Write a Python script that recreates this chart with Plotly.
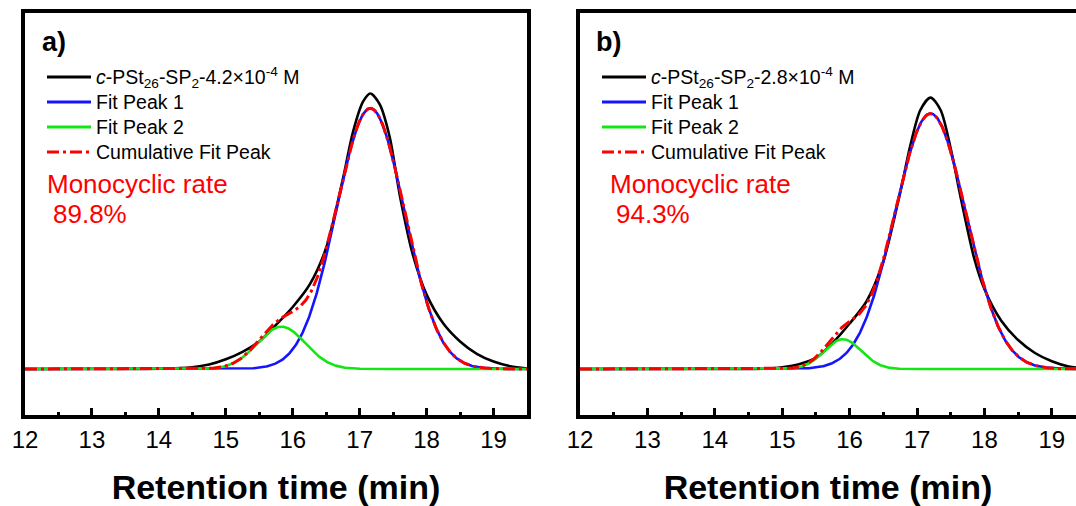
import numpy as np
import plotly.graph_objects as go

# ---- measured SEC traces (normalised detector response) ----
t_a = [12.0, 13.0, 14.0, 14.5, 14.75, 15.0, 15.25, 15.5, 15.75, 16.0, 16.25, 16.5,
       16.75, 16.9, 17.05, 17.16, 17.3, 17.45, 17.6, 17.8, 18.0, 18.25, 18.5,
       18.75, 19.0, 19.25, 19.5]
y_a = [0.0, 0.0, 0.001, 0.006, 0.016, 0.035, 0.062, 0.10, 0.16, 0.225, 0.305, 0.44,
       0.69, 0.86, 0.97, 1.0, 0.96, 0.84, 0.63, 0.41, 0.27, 0.165, 0.10,
       0.055, 0.027, 0.01, 0.002]

t_b = [12.0, 13.0, 14.0, 14.8, 15.0, 15.25, 15.5, 15.75, 16.0, 16.25, 16.5, 16.75,
       16.9, 17.05, 17.2, 17.35, 17.5, 17.65, 17.85, 18.0, 18.25, 18.5, 18.75,
       19.0, 19.25, 19.5]
y_b = [0.0, 0.0, 0.0, 0.002, 0.006, 0.017, 0.04, 0.095, 0.165, 0.245, 0.39, 0.64,
       0.81, 0.94, 0.985, 0.94, 0.80, 0.62, 0.40, 0.29, 0.175, 0.105, 0.058,
       0.028, 0.009, 0.002]

# ---- Gaussian fit parameters: [peak 1, peak 2] ----
fit_center_a = [17.16, 15.83]
fit_height_a = [0.946, 0.1536]
fit_sigma_a = [0.51, 0.36]

fit_center_b = [17.20, 15.90]
fit_height_b = [0.927, 0.108]
fit_sigma_b = [0.53, 0.275]

sample_names = {
    "a": "<i>c</i>-PSt<sub>26</sub>-SP<sub>2</sub>-4.2×10<sup>-4</sup> M",
    "b": "<i>c</i>-PSt<sub>26</sub>-SP<sub>2</sub>-2.8×10<sup>-4</sup> M",
}
fit_names = ["Fit Peak 1", "Fit Peak 2", "Cumulative Fit Peak"]
rates = {"a": "89.8%", "b": "94.3%"}
x_ticks = [12, 13, 14, 15, 16, 17, 18, 19]

FONT = "Arial, Liberation Sans, sans-serif"
BLACK, BLUE, GREEN, RED = "#000000", "#1414ff", "#14e614", "#ff0000"
CUM_DASH = "12px,4px,3px,4px"
W, H = 1076, 506

t_fit = np.linspace(12.0, 19.5, 751)


def gauss(t, c, h, s):
    return h * np.exp(-((t - c) ** 2) / (2 * s * s))


fig = go.Figure()


def add_panel(t, y, centers, heights, sigmas, key, xref, yref):
    p1 = gauss(t_fit, centers[0], heights[0], sigmas[0])
    p2 = gauss(t_fit, centers[1], heights[1], sigmas[1])
    common = dict(xaxis=xref, yaxis=yref, mode="lines", hoverinfo="skip", showlegend=False)
    fig.add_trace(go.Scatter(x=t, y=y, name=sample_names[key],
                             line=dict(color=BLACK, width=2.6, shape="spline", smoothing=0.8), **common))
    fig.add_trace(go.Scatter(x=t_fit, y=p1, name=fit_names[0], line=dict(color=BLUE, width=2.6), **common))
    fig.add_trace(go.Scatter(x=t_fit, y=p2, name=fit_names[1], line=dict(color=GREEN, width=2.6), **common))
    fig.add_trace(go.Scatter(x=t_fit, y=p1 + p2, name=fit_names[2],
                             line=dict(color=RED, width=3, dash=CUM_DASH), **common))


add_panel(t_a, y_a, fit_center_a, fit_height_a, fit_sigma_a, "a", "x", "y")
add_panel(t_b, y_b, fit_center_b, fit_height_b, fit_sigma_b, "b", "x2", "y2")

ydom = [1 - 415 / H, 1 - 13 / H]
yrange = [-0.167, 1.292]

xaxis_common = dict(
    tickmode="array", tickvals=x_ticks, ticks="inside", ticklen=7, tickwidth=3,
    tickcolor="black", showline=True, linewidth=4, linecolor="black", mirror=True,
    showgrid=False, zeroline=False, automargin=False,
    tickfont=dict(family=FONT, size=24, color="black"),
    minor=dict(dtick=0.5, tick0=12, ticks="inside", ticklen=3, tickwidth=3, tickcolor="black"),
    title=dict(text="Retention time (min)", font=dict(family=FONT, size=34, color="black", weight="bold"), standoff=24),
)
yaxis_common = dict(range=yrange, domain=ydom, showticklabels=False, ticks="", automargin=False,
                    showline=True, linewidth=4, linecolor="black", showgrid=False, zeroline=False)

fig.update_layout(
    width=W, height=H, margin=dict(l=0, r=0, t=0, b=0),
    paper_bgcolor="white", plot_bgcolor="white", showlegend=False,
    xaxis=dict(domain=[25 / W, 527 / W], range=[12, 19.5], anchor="y", **xaxis_common),
    xaxis2=dict(domain=[580 / W, 1.0], range=[12, 12 + 496 / 67.4], anchor="y2", **xaxis_common),
    yaxis=dict(anchor="x", mirror=True, **yaxis_common),
    yaxis2=dict(anchor="x2", mirror=False, **yaxis_common),
)


def px(x):
    return x / W


def py(y):
    return 1 - y / H


# key boxes drawn in the upper-left corner of each panel
key_styles = [dict(color=BLACK, width=3), dict(color=BLUE, width=3),
              dict(color=GREEN, width=3), dict(color=RED, width=3, dash=CUM_DASH)]
rows = [77, 102, 127, 152]

for key, left, line_x0, line_x1, text_x, rate_x in (("a", 40, 47, 91, 94, 45),
                                                    ("b", 594, 602, 646, 649, 608)):
    fig.add_annotation(x=px(left), y=py(42), xref="paper", yref="paper", xanchor="left", yanchor="middle",
                       text=f"<b>{key})</b>", showarrow=False, font=dict(family=FONT, size=27, color="black"))
    names = [sample_names[key]] + fit_names
    for row_y, style, name in zip(rows, key_styles, names):
        fig.add_shape(type="line", xref="paper", yref="paper", x0=px(line_x0), x1=px(line_x1),
                      y0=py(row_y), y1=py(row_y), line=style)
        fig.add_annotation(x=px(text_x), y=py(row_y), xref="paper", yref="paper", xanchor="left",
                           yanchor="middle", text=name, showarrow=False,
                           font=dict(family=FONT, size=19.5, color="black"))
    fig.add_annotation(x=px(rate_x), y=py(184), xref="paper", yref="paper", xanchor="left", yanchor="middle",
                       text="Monocyclic rate", showarrow=False, font=dict(family=FONT, size=26, color=RED))
    fig.add_annotation(x=px(rate_x + 6), y=py(214), xref="paper", yref="paper", xanchor="left", yanchor="middle",
                       text=rates[key], showarrow=False, font=dict(family=FONT, size=26, color=RED))

fig.write_html("out.html")
